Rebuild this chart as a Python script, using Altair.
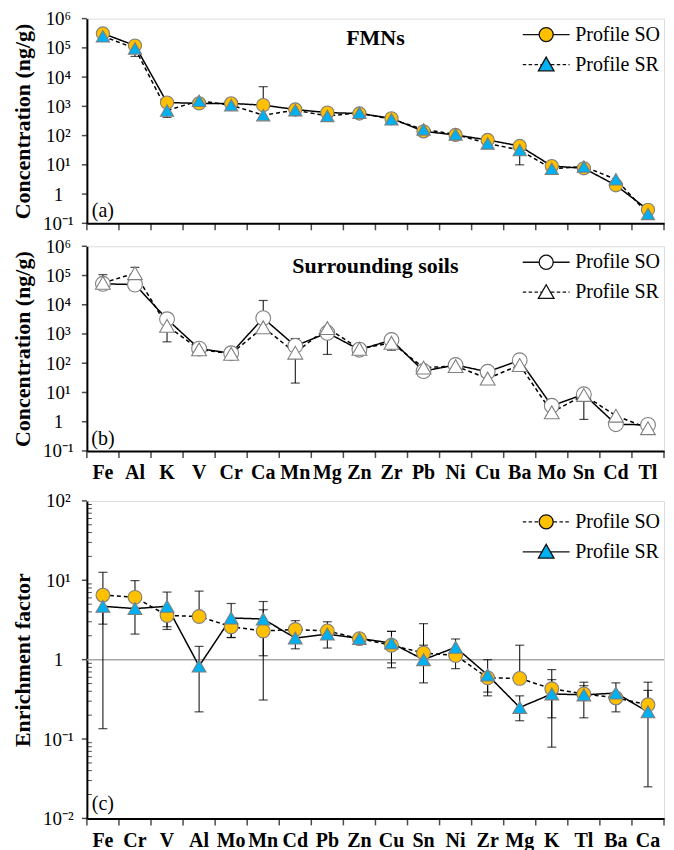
import altair as alt
import pandas as pd

FONT = "Liberation Serif"
profiles = ["Profile SO", "Profile SR"]

# ---------------- panel (a) / (b) categories ----------------
elems_ab = ["Fe", "Al", "K", "V", "Cr", "Ca", "Mn", "Mg", "Zn", "Zr",
            "Pb", "Ni", "Cu", "Ba", "Mo", "Sn", "Cd", "Tl"]

# (a) FMNs, ng/g
fmn_so = [3.1e5, 1.2e5, 1350, 1260, 1260, 1100, 780, 610, 570, 390,
          140, 105, 71, 44, 9.1, 7.6, 2.0, 0.29]
fmn_sr = [2.5e5, 9.6e4, 720, 1550, 1100, 500, 740, 470, 600, 360,
          163, 110, 54, 32, 7.3, 8.7, 3.2, 0.21]
fmn_so_lo = [None] * 18
fmn_so_hi = [None, None, None, None, None, 4700, None, None, None, None,
             None, None, None, None, None, None, None, None]
fmn_sr_lo = [None, 5.1e4, 420, None, None, None, None, None, None, None,
             None, None, None, 10, None, None, None, None]
fmn_sr_hi = [None] * 18

# (b) Surrounding soils, ng/g
soil_so = [5.2e4, 4.9e4, 3200, 316, 220, 3500, 390, 1100, 290, 620,
           54, 87, 51, 126, 3.5, 8.7, 0.82, 0.78]
soil_sr = [5.6e4, 1.2e5, 1900, 300, 210, 1700, 230, 1600, 310, 500,
           71, 80, 30, 87, 2.1, 8.2, 1.6, 0.6]
soil_so_lo = [None, None, None, None, None, None, None, 200, None, None,
              None, None, None, None, None, None, None, None]
soil_so_hi = [None, None, None, None, None, 1.4e4, 700, None, None, None,
              None, None, None, None, None, None, None, None]
soil_sr_lo = [None, None, 540, None, None, None, 21, None, None, 280,
              None, None, None, None, None, 1.2, None, None]
soil_sr_hi = [1.07e5, 1.9e5, None, None, None, None, None, None, None, None,
              None, None, None, None, None, None, None, None]

# ---------------- panel (c) enrichment factor ----------------
elems_c = ["Fe", "Cr", "V", "Al", "Mo", "Mn", "Cd", "Pb", "Zn", "Cu",
           "Sn", "Ni", "Zr", "Mg", "K", "Tl", "Ba", "Ca"]
ef_so = [6.5, 6.1, 3.6, 3.5, 2.6, 2.3, 2.4, 2.3, 1.84, 1.52,
         1.21, 1.13, 0.59, 0.58, 0.43, 0.37, 0.33, 0.27]
ef_sr = [4.7, 4.4, 4.7, 0.83, 3.35, 3.25, 1.87, 2.1, 1.85, 1.62,
         1.0, 1.43, 0.64, 0.25, 0.37, 0.36, 0.38, 0.22]
ef_so_lo = [2.8, None, 2.6, None, 1.9, 0.31, None, None, None, 0.91,
            None, 0.77, 0.39, None, 0.185, None, 0.22, None]
ef_so_hi = [12.6, 9.9, None, 7.3, None, 4.25, 3.1, 3.0, None, 2.27,
            2.84, None, None, 1.52, 0.75, 0.52, None, 0.52]
ef_sr_lo = [0.135, 2.1, 2.4, 0.22, 1.9, 1.12, 1.37, 1.4, None, 0.79,
            0.51, None, 0.35, 0.17, 0.079, 0.185, None, 0.025]
ef_sr_hi = [None, None, 7.1, 1.47, 5.1, 5.4, None, None, None, 2.27,
            1.52, 1.82, 1.0, 0.35, 0.56, 0.47, 0.51, 0.41]

conc_ticks = [0.1, 1, 10, 100, 1e3, 1e4, 1e5, 1e6]
ef_ticks = [0.01, 0.1, 1, 10, 100]
ef_minor = [k * 10.0 ** e for e in (-2, -1, 0, 1) for k in range(2, 10)]
ref_line = [1]

GOLD = "#FFC000"
BLUE = "#00B0F0"
INK = "#000000"
WIDTH = 578
HALF_BAND = WIDTH / 18 / 2

LABEL_EXPR = ("datum.value == 1 ? '1' : '10' + "
              "['\u207b\u00b2','\u207b\u00b9','','\u00b9','\u00b2','\u00b3','\u2074','\u2075','\u2076']"
              "[round(log(datum.value)/LN10) + 2]")


# legend symbols: line + marker drawn as one path (units of sqrt(size)/2)
def dashed(x0, x1, d=0.45, g=0.3):
    s, x = "", x0
    while x < x1:
        e = min(x + d, x1)
        s += f"M{x:.2f},0L{e:.2f},0"
        x = e + g
    return s


CIRC = "M-0.9,0A0.9,0.9 0 1,1 0.9,0A0.9,0.9 0 1,1 -0.9,0Z"
TRI = "M0,-0.95L1,0.8L-1,0.8Z"
SOLID_C = "M-3,0L-0.9,0M0.9,0L3,0" + CIRC
DASH_C = dashed(-3, -0.95) + dashed(0.95, 3) + CIRC
SOLID_T = "M-3,0L-0.55,0M0.55,0L3,0" + TRI
DASH_T = dashed(-3, -0.6) + dashed(0.6, 3) + TRI


def build_df(elems, so, sr, so_lo, so_hi, sr_lo, sr_hi):
    rows = []
    for prof, vals, lo, hi in ((profiles[0], so, so_lo, so_hi),
                               (profiles[1], sr, sr_lo, sr_hi)):
        for i, e in enumerate(elems):
            rows.append(dict(elem=e, profile=prof, value=vals[i],
                             lo=vals[i] if lo[i] is None else lo[i],
                             hi=vals[i] if hi[i] is None else hi[i]))
    df = pd.DataFrame(rows)
    caps = []
    for r in rows:
        for k in ("lo", "hi"):
            if r[k] != r["value"]:
                caps.append(dict(elem=r["elem"], profile=r["profile"], cap=r[k]))
    return df, df[(df.lo != df.value) | (df.hi != df.value)], pd.DataFrame(caps)


def panel(elems, series, ydomain, yticks, ytitle, title, title_y, letter, letter_y,
          dashes, fills, stroke, msize, leg_shapes, show_labels, height, legend_y,
          xlabel_pad, minor=None):
    df, err, caps = series
    xscale = alt.Scale(type="band", paddingInner=0, paddingOuter=0)
    yscale = alt.Scale(type="log", domain=ydomain, nice=False)
    xaxis = alt.Axis(title=None, labels=show_labels, labelFont=FONT,
                     labelFontSize=20, labelFontWeight="bold", labelColor="black",
                     labelAngle=0, labelPadding=xlabel_pad, ticks=False,
                     domainColor=INK, domainWidth=2, grid=False, orient="bottom")
    yaxis = alt.Axis(title=ytitle, values=yticks, labelExpr=LABEL_EXPR,
                     labelFont=FONT, labelFontSize=19, labelColor="black",
                     labelAlign="center", labelPadding=29, ticks=False,
                     domainColor=INK, domainWidth=2, grid=False, titleFont=FONT,
                     titleFontSize=22, titleFontWeight="bold", titleColor="black",
                     titlePadding=8, orient="left")
    X = lambda **kw: alt.X("elem:N", sort=elems, scale=xscale, axis=xaxis, **kw)
    Y = lambda f: alt.Y(f, scale=yscale, axis=yaxis)

    lines = alt.Chart(df).mark_line(color="black", strokeWidth=1.5).encode(
        x=X(), y=Y("value:Q"),
        strokeDash=alt.StrokeDash("profile:N", scale=alt.Scale(domain=profiles, range=dashes),
                                  legend=None),
    )
    rules = alt.Chart(err).mark_rule(color="black", strokeWidth=1).encode(
        x=X(), y=Y("lo:Q"), y2="hi:Q")
    caps_l = alt.Chart(caps).mark_tick(color="black", thickness=1.2, size=9).encode(
        x=X(), y=Y("cap:Q"))
    points = alt.Chart(df).mark_point(filled=True, opacity=1, size=msize,
                                      stroke=stroke, strokeWidth=1.1).encode(
        x=X(), y=Y("value:Q"),
        shape=alt.Shape("profile:N", scale=alt.Scale(domain=profiles,
                        range=["circle", "triangle-up"]), legend=None),
        fill=alt.Fill("profile:N", scale=alt.Scale(domain=profiles, range=fills),
                      legend=None),
    )

    # axis tick marks, positioned through the scales (offset to band edges)
    xt = pd.DataFrame({"elem": elems, "v": [ydomain[0]] * len(elems)})
    yt = pd.DataFrame({"elem": [elems[0]] * len(yticks), "v": yticks})
    xt_a = alt.Chart(xt).mark_tick(orient="vertical", color=INK, thickness=1.5, size=7,
                                   xOffset=-HALF_BAND, yOffset=3.5).encode(
        x=X(), y=Y("v:Q"))
    xt_b = alt.Chart(xt.tail(1)).mark_tick(orient="vertical", color=INK, thickness=1.5,
                                           size=7, xOffset=HALF_BAND, yOffset=3.5).encode(
        x=X(), y=Y("v:Q"))
    yt_l = alt.Chart(yt).mark_tick(orient="horizontal", color=INK, thickness=1.5, size=5,
                                   xOffset=-HALF_BAND - 2.5).encode(
        x=X(), y=Y("v:Q"))

    leg = alt.Legend(orient="none", legendX=450, legendY=legend_y, title=None,
                     labelFont=FONT, labelFontSize=20, labelColor="black",
                     symbolSize=245, symbolStrokeWidth=1.3, symbolStrokeColor="black",
                     labelOffset=19, rowPadding=9, padding=0)
    legend_layer = alt.Chart(pd.DataFrame({"profile": profiles})).transform_filter(
        "false").mark_point(filled=True, opacity=1, strokeWidth=1.3).encode(
        shape=alt.Shape("profile:N", scale=alt.Scale(domain=profiles, range=leg_shapes),
                        legend=leg),
        fill=alt.Fill("profile:N", scale=alt.Scale(domain=profiles, range=fills),
                      legend=leg),
        stroke=alt.Stroke("profile:N", scale=alt.Scale(domain=profiles,
                          range=["#111111", "#111111"]), legend=leg),
    )
    txt = alt.Chart(pd.DataFrame({"elem": [elems[0]], "v": [letter_y], "t": [letter]})).mark_text(
        font=FONT, fontSize=20, color="black", align="center", baseline="middle").encode(
        x=X(), y=Y("v:Q"), text="t:N")

    layers = []
    if minor is not None:
        ref = alt.Chart(pd.DataFrame({"r": ref_line})).mark_rule(
            color="#a6a6a6", strokeWidth=1.5).encode(y=Y("r:Q"))
        mt = pd.DataFrame({"elem": [elems[0]] * len(minor), "v": minor})
        mt_l = alt.Chart(mt).mark_tick(orient="horizontal", color=INK, thickness=1, size=5,
                                       xOffset=-HALF_BAND + 2.5).encode(
            x=X(), y=Y("v:Q"))
        layers += [ref, mt_l]
    layers += [xt_a, xt_b, yt_l, lines, rules, caps_l, points, txt]
    if title:
        ttl = alt.Chart(pd.DataFrame({"elem": [elems[9]], "v": [title_y], "t": [title]})).mark_text(
            font=FONT, fontSize=22, fontWeight="bold", color="black", align="center",
            baseline="middle").encode(x=X(bandPosition=0), y=Y("v:Q"), text="t:N")
        layers.append(ttl)
    layers.append(legend_layer)
    ch = alt.layer(*layers).resolve_scale(shape="independent", fill="independent",
                                          stroke="independent")
    return ch.properties(width=WIDTH, height=height)


pa = panel(elems_ab, build_df(elems_ab, fmn_so, fmn_sr, fmn_so_lo, fmn_so_hi, fmn_sr_lo, fmn_sr_hi),
           [0.1, 1e6], conc_ticks, "Concentration (ng/g)", "FMNs", 2.1e5, "(a)", 0.26,
           [[1, 0], [4, 3]], [GOLD, BLUE], "#7f7f7f", 175, [SOLID_C, DASH_T], False, 205,
           6, 12)
pb = panel(elems_ab, build_df(elems_ab, soil_so, soil_sr, soil_so_lo, soil_so_hi, soil_sr_lo, soil_sr_hi),
           [0.1, 1e6], conc_ticks, "Concentration (ng/g)", "Surrounding soils", 2.1e5, "(b)", 0.26,
           [[1, 0], [4, 3]], ["white", "white"], "#808080", 220, [SOLID_C, DASH_T], True, 205,
           6, 12)
pc = panel(elems_c, build_df(elems_c, ef_so, ef_sr, ef_so_lo, ef_so_hi, ef_sr_lo, ef_sr_hi),
           [0.01, 100], ef_ticks, "Enrichment factor", None, None, "(c)", 0.015,
           [[4, 3], [1, 0]], [GOLD, BLUE], "#7f7f7f", 190, [DASH_C, SOLID_T], True, 318,
           11, 12, minor=ef_minor)

top = alt.vconcat(pa, pb, spacing=2).resolve_scale(
    shape="independent", fill="independent", strokeDash="independent", stroke="independent")
chart = alt.vconcat(top, pc, spacing=7).resolve_scale(
    shape="independent", fill="independent", strokeDash="independent", stroke="independent"
).resolve_legend(shape="independent", fill="independent", stroke="independent")
chart = chart.properties(padding={"left": 3, "top": 0, "right": 0, "bottom": 0}).configure_view(
    stroke=INK, strokeWidth=2).configure(background="white")

chart.save("out.html", embed_options={"renderer": "svg", "actions": False})
